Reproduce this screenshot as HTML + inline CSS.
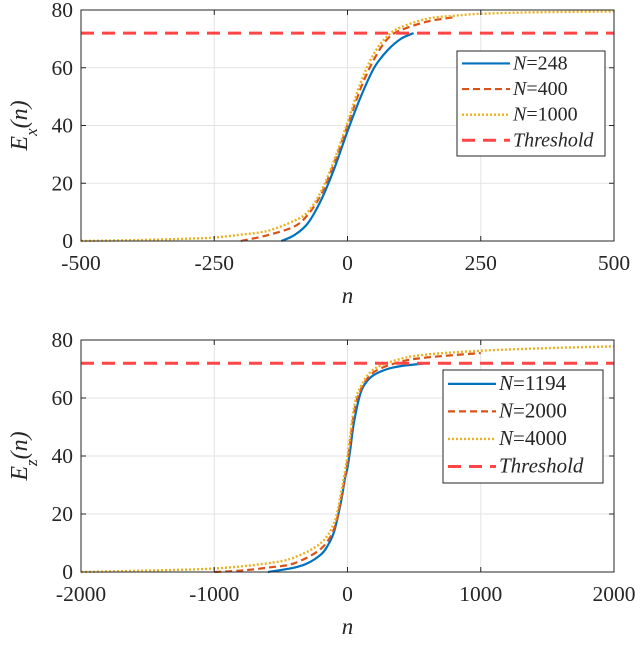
<!DOCTYPE html>
<html><head><meta charset="utf-8"><style>
body{margin:0;background:#fff}
svg text{font-family:"Liberation Serif",serif;fill:#262626}
</style></head><body>
<svg id="c" width="640" height="640" viewBox="0 0 640 640"></svg>
<script>
const topTicksX=[-500,-250,0,250,500];
const botTicksX=[-2000,-1000,0,1000,2000];
const ticksY=[0,20,40,60,80];
const threshold=72;
const topLabels=["N=248","N=400","N=1000"];
const botLabels=["N=1194","N=2000","N=4000"];
const topBlueX=[-124,-100,-75,-50,-25,0,25,50,75,100,124];
const topBlueY=[0,2,6,14,25,38,50,60,66,70,72];
const topOrangeX=[-200,-150,-100,-75,-50,-25,0,25,50,75,100,150,200];
const topOrangeY=[0,2,5,9,16,27,40,53,63,70,73,76,77.5];
const topYellowX=[-500,-400,-300,-250,-200,-150,-100,-75,-50,-25,0,25,50,75,100,150,200,250,350,500];
const topYellowY=[0,0.3,0.8,1.2,2.2,3.5,7,10,17,28,41,55,65,71,74,77,78,78.7,79.2,79.5];
const botBlueX=[-597,-400,-300,-200,-150,-100,-50,-20,0,20,50,100,150,200,300,400,597];
const botBlueY=[0,1.5,3,6,9,14,24,32,36,42,52,62,66,68,70,71,72];
const botOrangeX=[-1000,-800,-600,-400,-200,-100,-50,0,50,100,200,400,600,1000];
const botOrangeY=[0,0.5,1.5,3,8,15,25,38,55,63,69,72.5,74,75.5];
const botYellowX=[-2000,-1500,-1000,-600,-400,-200,-100,-50,0,50,100,200,400,600,1000,1500,2000];
const botYellowY=[0,0.5,1.2,3,5,10,17,27,40,57,64,70,73.5,75,76.3,77.2,77.8];

const NS="http://www.w3.org/2000/svg";
const svg=document.getElementById('c');
function mk(t,a,p){const e=document.createElementNS(NS,t);for(const k in a)e.setAttribute(k,a[k]);(p||svg).appendChild(e);return e;}
function smooth(pts){let d=`M${pts[0][0]},${pts[0][1]}`;for(let i=0;i<pts.length-1;i++){const p0=pts[Math.max(i-1,0)],p1=pts[i],p2=pts[i+1],p3=pts[Math.min(i+2,pts.length-1)];
d+=` C${p1[0]+(p2[0]-p0[0])/6},${p1[1]+(p2[1]-p0[1])/6} ${p2[0]-(p3[0]-p1[0])/6},${p2[1]-(p3[1]-p1[1])/6} ${p2[0]},${p2[1]}`;}return d;}
const styles=[{c:"#0072bd",w:2.2,d:""},{c:"#d95319",w:2.2,d:"7,4"},{c:"#edb120",w:2.4,d:"2,2"}];
function panel(name,L,R,T,B,xmin,xmax,ticksX,series,labels,leg,sub){
  const g=mk('g',{});
  const sx=v=>L+(v-xmin)/(xmax-xmin)*(R-L), sy=v=>B-(v/80)*(B-T);
  mk('rect',{x:L,y:T,width:R-L,height:B-T,fill:'#fff'},g);
  ticksX.forEach(t=>{const l=mk('line',{x1:sx(t),x2:sx(t),y1:T,y2:B,stroke:'#e3e3e3','stroke-width':1},g);});
  ticksY.forEach(t=>{const l=mk('line',{x1:L,x2:R,y1:sy(t),y2:sy(t),stroke:'#e3e3e3','stroke-width':1},g);});
  series.forEach((s,i)=>{const pts=s[0].map((x,j)=>[sx(x),sy(s[1][j])]);
    const p=mk('path',{d:smooth(pts),fill:'none',stroke:styles[i].c,'stroke-width':styles[i].w,'stroke-dasharray':styles[i].d},g);
    });
  const th=mk('line',{x1:L,x2:R,y1:sy(threshold),y2:sy(threshold),stroke:'#ff4545','stroke-width':3,'stroke-dasharray':'13,8'},g);
  
  mk('rect',{x:L,y:T,width:R-L,height:B-T,fill:'none',stroke:'#262626','stroke-width':1},g);
  ticksX.forEach(t=>{mk('line',{x1:sx(t),x2:sx(t),y1:B,y2:B-5,stroke:'#262626'},g);mk('line',{x1:sx(t),x2:sx(t),y1:T,y2:T+5,stroke:'#262626'},g);
    const tx=mk('text',{x:sx(t),y:B+29,'text-anchor':'middle','font-size':21.5},g);tx.textContent=t;});
  ticksY.forEach(t=>{mk('line',{x1:L,x2:L+5,y1:sy(t),y2:sy(t),stroke:'#262626'},g);mk('line',{x1:R,x2:R-5,y1:sy(t),y2:sy(t),stroke:'#262626'},g);
    const tx=mk('text',{x:L-8,y:sy(t)+7,'text-anchor':'end','font-size':21.5},g);tx.textContent=t;});
  const xl=mk('text',{x:(L+R)/2,y:B+62,'text-anchor':'middle','font-size':23,'font-style':'italic'},g);xl.textContent='n';
  
  const yl=mk('text',{transform:`translate(${L-54},${(T+B)/2}) rotate(-90)`,'text-anchor':'middle','font-size':24,'font-style':'italic'},g);
  yl.innerHTML=`E<tspan baseline-shift="sub" font-size="17">${sub}</tspan>(n)`;
  
  const lg=mk('g',{},g);
  mk('rect',{x:leg.x,y:leg.y,width:leg.w,height:leg.h,fill:'#fff',stroke:'#262626','stroke-width':1},lg);
  const all=labels.concat(['Threshold']);
  all.forEach((lab,i)=>{const yy=leg.y+leg.h*(i+0.72)/4.1;
    const st=i<3?styles[i]:{c:'#ff4545',w:3,d:'13,8'};
    mk('line',{x1:leg.x+5,x2:leg.x+53,y1:yy-6,y2:yy-6,stroke:st.c,'stroke-width':st.w,'stroke-dasharray':st.d},lg);
    const tx=mk('text',{x:leg.x+56,y:yy,'font-size':leg.fs},lg);
    if(i<3){const p=lab.split('=');tx.innerHTML=`<tspan font-style="italic">${p[0]}</tspan>=${p[1]}`;}else{tx.setAttribute('font-style','italic');tx.textContent=lab;}
    });
}
panel('top-panel',81,614,10,241,-500,500,topTicksX,[[topBlueX,topBlueY],[topOrangeX,topOrangeY],[topYellowX,topYellowY]],topLabels,{x:457,y:51,w:148,h:105,fs:20},'x');
panel('bottom-panel',81,614,340,572,-2000,2000,botTicksX,[[botBlueX,botBlueY],[botOrangeX,botOrangeY],[botYellowX,botYellowY]],botLabels,{x:443,y:370,w:160,h:113,fs:21},'z');
</script>
</body></html>
